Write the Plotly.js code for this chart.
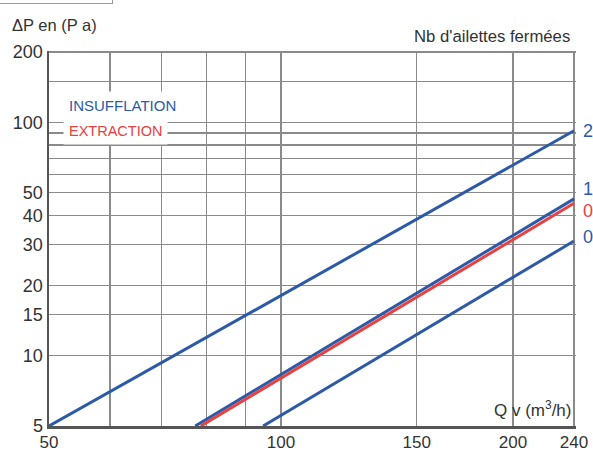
<!DOCTYPE html>
<html>
<head>
<meta charset="utf-8">
<script src="https://cdn.plot.ly/plotly-3.0.1.min.js"></script>
<style>
html,body{margin:0;padding:0;background:#fff;}
#wrap{position:relative;width:593px;height:451px;}
#chart{width:593px;height:451px;}
#frag{position:absolute;left:0;top:0;width:112px;height:3px;border-right:1px solid #999;border-bottom:1px solid #999;pointer-events:none;}
</style>
</head>
<body>
<div id="wrap"><div id="chart"></div><div id="frag"></div></div>
<script>
// Data (log-log)
const q_ins2 = [50, 240];
const p_ins2 = [5, 92];
const q_ins1 = [77.4, 240];
const p_ins1 = [5, 47];
const q_ext0 = [78.7, 240];
const p_ext0 = [5, 45];
const q_ins0 = [94.8, 240];
const p_ins0 = [5, 31];

const xTickVals = [50, 60, 70, 80, 90, 100, 150, 200, 240];
const xTickText = ['50', '', '', '', '', '100', '150', '200', '240'];
const yTickVals = [5, 10, 15, 20, 30, 40, 50, 60, 70, 80, 90, 100, 150, 200];
const yTickText = ['5', '10', '15', '20', '30', '40', '50', '', '', '', '', '100', '', '200'];

const rightLabels = ['2', '1', '0', '0'];
const rightLabelY = [92, 52, 41.7, 32.3];

const BLUE = '#2c5aa6';
const RED = '#e8413f';
const FONT = 'Liberation Sans, Arial, sans-serif';
const labelColors = [BLUE, BLUE, RED, BLUE];

const traces = [
  {x: q_ins2, y: p_ins2, mode: 'lines', line: {color: BLUE, width: 3}},
  {x: q_ins1, y: p_ins1, mode: 'lines', line: {color: BLUE, width: 3}},
  {x: q_ext0, y: p_ext0, mode: 'lines', line: {color: RED, width: 3}},
  {x: q_ins0, y: p_ins0, mode: 'lines', line: {color: BLUE, width: 3}}
];

// plot area: 49..576 px horizontally, 51..426 px vertically
const PW = 527, PH = 375, PL = 49, PB = 426;
const px = v => (v - PL) / PW;
const py = v => (PB - v) / PH;

const annotations = [
  {text: 'ΔP en (P a)', xref: 'paper', yref: 'paper', x: px(10), y: py(25), xanchor: 'left', yanchor: 'middle', showarrow: false, font: {family: FONT, size: 16.5, color: '#333'}},
  {text: "Nb d'ailettes fermées", xref: 'paper', yref: 'paper', x: px(572), y: py(37), xanchor: 'right', yanchor: 'middle', showarrow: false, font: {family: FONT, size: 16.7, color: '#333'}},
  {text: 'INSUFFLATION', xref: 'paper', yref: 'paper', x: px(63), y: py(105), xanchor: 'left', yanchor: 'middle', showarrow: false, bgcolor: '#fff', borderpad: 5, font: {family: FONT, size: 15, color: BLUE}},
  {text: 'EXTRACTION', xref: 'paper', yref: 'paper', x: px(63), y: py(131), xanchor: 'left', yanchor: 'middle', showarrow: false, bgcolor: '#fff', borderpad: 5, font: {family: FONT, size: 14.5, color: RED}},
  {text: 'Q v (m<sup>3</sup>/h)', xref: 'paper', yref: 'paper', x: px(573), y: py(409), xanchor: 'right', yanchor: 'middle', showarrow: false, font: {family: FONT, size: 17, color: '#333'}}
];
rightLabels.forEach((t, i) => {
  annotations.push({text: t, xref: 'paper', yref: 'y', x: px(588), y: Math.log10(rightLabelY[i]), xanchor: 'center', yanchor: 'middle', showarrow: false, font: {family: FONT, size: 18, color: labelColors[i]}});
});

const layout = {
  width: 593, height: 451,
  margin: {l: 49, r: 17, t: 51, b: 25},
  paper_bgcolor: '#fff', plot_bgcolor: '#fff',
  showlegend: false,
  font: {family: FONT, color: '#333'},
  xaxis: {
    type: 'log', range: [Math.log10(50), Math.log10(240) + 0.0026],
    tickmode: 'array', tickvals: xTickVals, ticktext: xTickText,
    showgrid: true, gridcolor: '#8a8a8a', gridwidth: 1.2,
    showline: true, linecolor: '#555', linewidth: 2.5,
    ticks: '', zeroline: false, ticklabelstandoff: -1,
    tickfont: {family: FONT, size: 17, color: '#333'}
  },
  yaxis: {
    type: 'log', range: [Math.log10(5), Math.log10(200) + 0.0045],
    tickmode: 'array', tickvals: yTickVals, ticktext: yTickText,
    showgrid: true, gridcolor: '#8a8a8a', gridwidth: 1.2,
    showline: true, linecolor: '#555', linewidth: 2.5,
    ticks: '', zeroline: false,
    tickfont: {family: FONT, size: 18, color: '#333'}
  },
  annotations: annotations
};

Plotly.newPlot('chart', traces, layout, {displayModeBar: false, staticPlot: true});
</script>
</body>
</html>
